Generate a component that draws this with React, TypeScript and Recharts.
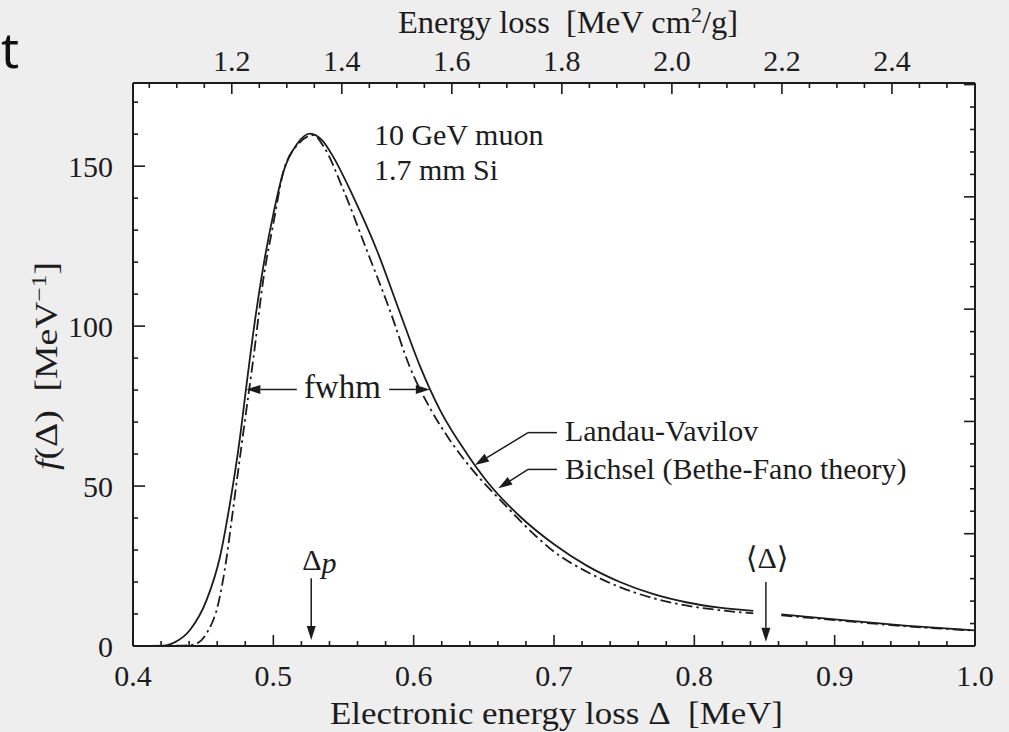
import React from "react";
import {
  CartesianGrid,
  Line,
  LineChart,
  ReferenceDot,
  ReferenceLine,
  XAxis,
  YAxis,
} from "recharts";

const INK = "#1c1c1c";
const SERIF = '"Liberation Serif", "DejaVu Serif", serif';

// Bichsel (Bethe-Fano theory), solid curve. null = break at <Delta>
const bichselDelta = [
  0.4, 0.4216, 0.43, 0.4406, 0.4525, 0.462, 0.4691, 0.4763, 0.481, 0.487,
  0.493, 0.5, 0.507, 0.517, 0.526, 0.535, 0.5427, 0.557, 0.5737, 0.5903,
  0.6045, 0.6188, 0.6378, 0.652, 0.676, 0.7, 0.723, 0.747, 0.771, 0.795,
  0.818, 0.842, 0.852, 0.862, 0.9, 0.95, 1.0,
];
const bichselF = [
  0, 0.1, 1.2, 5, 14.4, 27.9, 44.6, 65.4, 82, 102,
  119, 135, 148, 157, 160.2, 158, 152.9, 140.4, 123.8, 104.1,
  87.5, 73.75, 60.2, 51.6, 40.4, 31.8, 25.2, 20.0, 16.2, 13.6,
  12.0, 11.0, null, 9.9, 8.3, 6.4, 4.9,
];

// Landau-Vavilov, dash-dot curve
const landauDelta = [
  0.4, 0.435, 0.443, 0.4525, 0.4608, 0.4668, 0.4703, 0.475, 0.4798, 0.4858,
  0.493, 0.5, 0.507, 0.518, 0.5285, 0.536, 0.55, 0.5665, 0.583, 0.597,
  0.6116, 0.6256, 0.6401, 0.664, 0.688, 0.7, 0.723, 0.747, 0.771, 0.795,
  0.818, 0.842, 0.852, 0.862, 0.9, 0.95, 1.0,
];
const landauF = [
  0, 0.1, 0.4, 4, 13.3, 27.9, 39.4, 55, 70.6, 90,
  115, 132, 148, 157, 159.7, 156, 142.5, 123.8, 105, 87.5,
  74.4, 64.5, 56, 44.6, 34, 29.5, 23.3, 18.4, 14.9, 12.6,
  11.2, 10.2, null, 9.6, 8.1, 6.2, 4.8,
];

const bottomLabels = [0.4, 0.5, 0.6, 0.7, 0.8, 0.9, 1.0];
const leftLabels = [0, 50, 100, 150];
const topLabels = [1.2, 1.4, 1.6, 1.8, 2.0, 2.2, 2.4];
const rightMajor = [0, 5, 10, 15, 20, 25];

// energy loss per areal density: Delta / (rho * t)
const topDomain = [1.0204, 2.551];

const range = (a: number, b: number, step: number) => {
  const out: number[] = [];
  for (let v = a; v <= b + step / 2; v += step) out.push(Math.round(v * 1000) / 1000);
  return out;
};
const bottomTicks = range(0.4, 1.0, 0.02);
const leftTicks = range(0, 170, 10);
const topTicks = range(1.05, 2.5, 0.05);
const rightTicks = range(0, 25, 1);

const isIn = (list: number[], v: number) => list.some((t) => Math.abs(t - v) < 1e-6);

const bichsel = bichselDelta.map((d, i) => ({ delta: d, f: bichselF[i] }));
const landau = landauDelta.map((d, i) => ({ delta: d, f: landauF[i] }));
// empty series so the top axis gets a scale
const topAnchor = topDomain.map((e) => ({ energy: e, f: null }));

// annotation arrows, [fromDelta, fromF, toDelta, toF, arrowhead]
const arrows: [number, number, number, number, boolean][] = [
  [0.527, 21.2, 0.527, 1.9, true],
  [0.851, 20, 0.851, 1.3, true],
  [0.5167, 80.2, 0.4808, 80.2, true],
  [0.5825, 80.2, 0.6115, 80.2, true],
  [0.7021, 66.7, 0.6815, 66.7, false],
  [0.6815, 66.7, 0.6437, 56.6, true],
  [0.7021, 55.2, 0.6815, 55.2, false],
  [0.6815, 55.2, 0.6603, 49.3, true],
];

function arrowShape(head: boolean) {
  return (p: any) => {
    const { x1, y1, x2, y2 } = p;
    const dx = x2 - x1;
    const dy = y2 - y1;
    const len = Math.sqrt(dx * dx + dy * dy) || 1;
    const ux = dx / len;
    const uy = dy / len;
    const hl = 14;
    const hw = 4.5;
    const bx = x2 - ux * hl;
    const by = y2 - uy * hl;
    return (
      <g>
        <line x1={x1} y1={y1} x2={head ? bx : x2} y2={head ? by : y2} stroke={INK} strokeWidth={1.5} />
        {head && (
          <polygon
            points={`${x2},${y2} ${bx - uy * hw},${by + ux * hw} ${bx + uy * hw},${by - ux * hw}`}
            fill={INK}
          />
        )}
      </g>
    );
  };
}

function textShape(content: React.ReactNode, anchor: string, size = 30) {
  return (p: any) => (
    <text x={p.cx} y={p.cy} textAnchor={anchor} fontSize={size} fontFamily={SERIF} fill={INK}>
      {content}
    </text>
  );
}

const BottomTick = (p: any) => {
  const v = p.payload.value;
  const major = isIn(bottomLabels, v);
  return (
    <g>
      <line x1={p.x} y1={p.y} x2={p.x} y2={p.y - (major ? 11 : 5)} stroke={INK} strokeWidth={1.6} />
      {major && (
        <text x={p.x} y={p.y + 40} textAnchor="middle" fontSize={30} fontFamily={SERIF} fill={INK}>
          {v.toFixed(1)}
        </text>
      )}
    </g>
  );
};

const TopTick = (p: any) => {
  const v = p.payload.value;
  const major = isIn(topLabels, v);
  return (
    <g>
      <line x1={p.x} y1={p.y} x2={p.x} y2={p.y + (major ? 11 : 5)} stroke={INK} strokeWidth={1.6} />
      {major && (
        <text x={p.x} y={p.y - 12} textAnchor="middle" fontSize={30} fontFamily={SERIF} fill={INK}>
          {v.toFixed(1)}
        </text>
      )}
    </g>
  );
};

const LeftTick = (p: any) => {
  const v = p.payload.value;
  const major = isIn(leftLabels, v);
  return (
    <g>
      <line x1={p.x} y1={p.y} x2={p.x + (major ? 12 : 5)} y2={p.y} stroke={INK} strokeWidth={1.6} />
      {major && (
        <text x={p.x - 20} y={p.y + 11} textAnchor="end" fontSize={30} fontFamily={SERIF} fill={INK}>
          {v}
        </text>
      )}
    </g>
  );
};

const RightTick = (p: any) => {
  const major = isIn(rightMajor, p.payload.value);
  return <line x1={p.x} y1={p.y} x2={p.x - (major ? 11 : 5)} y2={p.y} stroke={INK} strokeWidth={1.6} />;
};

const BottomTitle = () => (
  <text x={330} y={724} textLength={453} lengthAdjust="spacingAndGlyphs" fontSize={31} fontFamily={SERIF} fill={INK}>
    Electronic energy loss Δ{"\u00a0\u00a0"}[MeV]
  </text>
);

const TopTitle = () => (
  <text x={398} y={33} textLength={340} lengthAdjust="spacingAndGlyphs" fontSize={31} fontFamily={SERIF} fill={INK}>
    Energy loss{"\u00a0\u00a0"}[MeV cm<tspan dy={-11} fontSize={21}>2</tspan>
    <tspan dy={11}>/g]</tspan>
  </text>
);

const LeftTitle = () => (
  <text
    transform="translate(57, 470) rotate(-90)"
    x={0}
    y={0}
    textLength={208}
    lengthAdjust="spacingAndGlyphs"
    fontSize={31}
    fontFamily={SERIF}
    fill={INK}
  >
    <tspan fontStyle="italic">f</tspan>(Δ){"\u00a0\u00a0"}[MeV<tspan dy={-11} fontSize={21}>−1</tspan>
    <tspan dy={11}>]</tspan>
  </text>
);

export default function App() {
  return (
    <div
      style={{
        position: "absolute",
        left: 0,
        top: 0,
        width: 1009,
        height: 732,
        background: "#eeeeee",
        overflow: "hidden",
      }}
    >
      <svg style={{ position: "absolute", left: 0, top: 0 }} width={40} height={80}>
        <text x={1} y={68} fontSize={50} fontFamily='"Noto Sans", sans-serif' fill="#111">
          t
        </text>
      </svg>
      <LineChart width={1009} height={732} margin={{ top: 0, right: 0, bottom: 0, left: 0 }}>
        <CartesianGrid xAxisId="bottom" yAxisId="left" horizontal={false} vertical={false} fill="#ffffff" />
        <XAxis
          xAxisId="bottom"
          dataKey="delta"
          type="number"
          domain={[0.4, 1.0]}
          allowDataOverflow
          ticks={bottomTicks}
          interval={0}
          height={86}
          tickSize={0}
          tickMargin={0}
          tickLine={false}
          tick={BottomTick}
          axisLine={{ stroke: INK, strokeWidth: 2 }}
          label={BottomTitle}
        />
        <XAxis
          xAxisId="top"
          dataKey="energy"
          orientation="top"
          type="number"
          domain={topDomain}
          allowDataOverflow
          ticks={topTicks}
          interval={0}
          height={83}
          tickSize={0}
          tickMargin={0}
          tickLine={false}
          tick={TopTick}
          axisLine={{ stroke: INK, strokeWidth: 2 }}
          label={TopTitle}
        />
        <YAxis
          yAxisId="left"
          type="number"
          domain={[0, 176]}
          allowDataOverflow
          ticks={leftTicks}
          interval={0}
          width={133}
          tickSize={0}
          tickMargin={0}
          tickLine={false}
          tick={LeftTick}
          axisLine={{ stroke: INK, strokeWidth: 2 }}
          label={LeftTitle}
        />
        <YAxis
          yAxisId="right"
          orientation="right"
          type="number"
          domain={[0, 25.07]}
          allowDataOverflow
          ticks={rightTicks}
          interval={0}
          width={34}
          tickSize={0}
          tickMargin={0}
          tickLine={false}
          tick={RightTick}
          axisLine={{ stroke: INK, strokeWidth: 2 }}
        />

        <Line
          xAxisId="top"
          yAxisId="left"
          data={topAnchor}
          dataKey="f"
          stroke="none"
          dot={false}
          activeDot={false}
          legendType="none"
          isAnimationActive={false}
        />
        <Line
          xAxisId="bottom"
          yAxisId="left"
          data={landau}
          dataKey="f"
          type="monotone"
          stroke={INK}
          strokeWidth={1.8}
          strokeDasharray="11 4 2.5 4"
          dot={false}
          activeDot={false}
          isAnimationActive={false}
        />
        <Line
          xAxisId="bottom"
          yAxisId="left"
          data={bichsel}
          dataKey="f"
          type="monotone"
          stroke={INK}
          strokeWidth={1.8}
          dot={false}
          activeDot={false}
          isAnimationActive={false}
        />

        {arrows.map(([xa, ya, xb, yb, head], i) => (
          <ReferenceLine
            key={`arrow-${i}`}
            xAxisId="bottom"
            yAxisId="left"
            segment={[
              { x: xa, y: ya },
              { x: xb, y: yb },
            ]}
            shape={arrowShape(head)}
          />
        ))}

        <ReferenceDot xAxisId="bottom" yAxisId="left" x={0.5717} y={156.6} r={0} shape={textShape("10 GeV muon", "start")} />
        <ReferenceDot xAxisId="bottom" yAxisId="left" x={0.5717} y={145.6} r={0} shape={textShape("1.7 mm Si", "start")} />
        <ReferenceDot xAxisId="bottom" yAxisId="left" x={0.5492} y={77.5} r={0} shape={textShape("fwhm", "middle", 33)} />
        <ReferenceDot xAxisId="bottom" yAxisId="left" x={0.7078} y={64} r={0} shape={textShape("Landau-Vavilov", "start")} />
        <ReferenceDot
          xAxisId="bottom"
          yAxisId="left"
          x={0.7078}
          y={52.2}
          r={0}
          shape={textShape("Bichsel (Bethe-Fano theory)", "start")}
        />
        <ReferenceDot
          xAxisId="bottom"
          yAxisId="left"
          x={0.5206}
          y={23.75}
          r={0}
          shape={textShape(
            <>
              Δ<tspan fontStyle="italic" dy={3}>p</tspan>
            </>,
            "start"
          )}
        />
        <ReferenceDot xAxisId="bottom" yAxisId="left" x={0.8518} y={24.4} r={0} shape={textShape("⟨Δ⟩", "middle")} />
      </LineChart>
    </div>
  );
}
